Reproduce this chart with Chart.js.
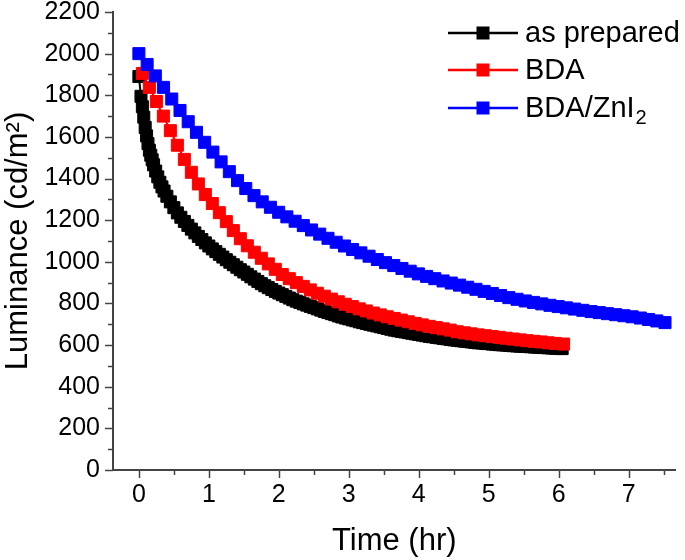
<!DOCTYPE html>
<html><head><meta charset="utf-8">
<script src="https://cdn.jsdelivr.net/npm/chart.js@4/dist/chart.umd.min.js"></script>
<style>html,body{margin:0;padding:0;background:#fff;}#wrap{width:685px;height:560px;}</style>
</head><body><div id="wrap"><canvas id="c" width="685" height="560"></canvas></div>
<script>
const seriesNames = ['as prepared', 'BDA', 'BDA/ZnI\u2082'];
const seriesColors = ['#000000', '#ff0000', '#0000ff'];

const blackT = [0,0.03,0.05,0.07,0.09,0.11,0.13,0.15,0.17,0.19,0.21,0.24,0.27,0.3,0.33,0.36,0.4,0.45,0.5,0.55,0.6,0.65,0.7,0.75,0.8,0.85,0.9,0.95,1,1.05,1.1,1.15,1.2,1.25,1.3,1.35,1.4,1.45,1.5,1.55,1.6,1.65,1.7,1.75,1.8,1.85,1.9,1.95,2,2.05,2.1,2.15,2.2,2.25,2.3,2.35,2.4,2.45,2.5,2.55,2.6,2.65,2.7,2.75,2.8,2.85,2.9,2.95,3,3.05,3.1,3.15,3.2,3.25,3.3,3.35,3.4,3.45,3.5,3.55,3.6,3.65,3.7,3.75,3.8,3.85,3.9,3.95,4,4.05,4.1,4.15,4.2,4.25,4.3,4.35,4.4,4.45,4.5,4.55,4.6,4.65,4.7,4.75,4.8,4.85,4.9,4.95,5,5.05,5.1,5.15,5.2,5.25,5.3,5.35,5.4,5.45,5.5,5.55,5.6,5.65,5.7,5.75,5.8,5.85,5.9,5.95,6,6.05];
const blackV = [1890,1795,1745,1695,1645,1605,1568,1536,1512,1490,1466,1436,1408,1382,1360,1340,1315,1288,1260,1235,1214,1194,1175,1157,1139,1122,1107,1091,1076,1062,1049,1036,1023,1010,998,986,974,962,951,940,928,917,906,895,885,876,867,858,850,842,834,826,818,811,805,798,792,786,780,774,768,762,757,751,746,740,735,730,726,721,717,712,708,704,700,696,692,688,684,680,676,672,669,666,663,660,657,654,651,648,645,642,640,637,635,632,630,627,625,623,621,619,617,615,613,611,610,608,607,605,604,602,601,600,598,597,596,595,594,593,592,591,590,589,588,587,586,585,584,583];

const redT = [0.05,0.15,0.25,0.35,0.45,0.55,0.65,0.75,0.85,0.95,1.05,1.15,1.25,1.35,1.45,1.55,1.65,1.75,1.85,1.95,2.05,2.15,2.25,2.35,2.45,2.55,2.65,2.75,2.85,2.95,3.05,3.15,3.25,3.35,3.45,3.55,3.65,3.75,3.85,3.95,4.05,4.15,4.25,4.35,4.45,4.55,4.65,4.75,4.85,4.95,5.05,5.15,5.25,5.35,5.45,5.55,5.65,5.75,5.85,5.95,6.07];
const redV = [1905,1838,1770,1700,1630,1560,1492,1430,1374,1323,1280,1236,1193,1150,1111,1077,1046,1017,990,964,939,919,900,882,865,849,835,821,808,796,785,774,764,754,745,736,728,720,712,704,697,690,684,678,672,664,659,654,649,645,641,637,633,629,625,621,618,615,611,608,605];

const blueT = [0,0.118,0.235,0.353,0.47,0.588,0.705,0.823,0.94,1.058,1.175,1.293,1.41,1.528,1.645,1.763,1.88,1.998,2.115,2.233,2.35,2.468,2.585,2.703,2.82,2.938,3.055,3.173,3.29,3.408,3.525,3.643,3.76,3.878,3.995,4.113,4.23,4.348,4.465,4.583,4.7,4.818,4.935,5.053,5.17,5.288,5.405,5.523,5.64,5.758,5.875,5.993,6.11,6.228,6.345,6.463,6.58,6.698,6.815,6.933,7.05,7.168,7.285,7.403,7.52];
const blueV = [2000,1948,1893,1838,1782,1727,1673,1622,1574,1527,1480,1433,1390,1352,1318,1288,1262,1238,1216,1195,1174,1153,1133,1113,1094,1076,1059,1043,1027,1011,996,982,968,955,942,930,919,908,898,888,878,868,858,848,838,828,820,812,805,798,791,785,779,773,767,761,756,751,746,741,736,730,723,716,708];

const xTickMarks = [0,0.5,1,1.5,2,2.5,3,3.5,4,4.5,5,5.5,6,6.5,7,7.5];
const yTickMarks = [0,100,200,300,400,500,600,700,800,900,1000,1100,1200,1300,1400,1500,1600,1700,1800,1900,2000,2100,2200];

const FONT = "'Liberation Sans', Arial, sans-serif";
const AXIS_COLOR = '#444';

function pts(t, v) { const n = Math.min(t.length, v.length); const out = []; for (let i = 0; i < n; i++) out.push({x: t[i], y: v[i]}); return out; }

const tickPlugin = {
  id: 'tickMarks',
  afterDraw(chart) {
    const {ctx, scales: {x, y}, chartArea} = chart;
    ctx.save();
    ctx.strokeStyle = AXIS_COLOR; ctx.lineWidth = 1.5;
    for (const v of xTickMarks) {
      const px = Math.round(x.getPixelForValue(v)) + 0.5;
      const len = Number.isInteger(v) ? 8 : 5;
      ctx.beginPath(); ctx.moveTo(px, chartArea.bottom); ctx.lineTo(px, chartArea.bottom + len); ctx.stroke();
    }
    for (const v of yTickMarks) {
      const py = Math.round(y.getPixelForValue(v)) + 0.5;
      const len = (v % 200 === 0) ? 8 : 5;
      ctx.beginPath(); ctx.moveTo(chartArea.left, py); ctx.lineTo(chartArea.left - len, py); ctx.stroke();
    }
    ctx.restore();
  }
};

const legendPlugin = {
  id: 'customLegend',
  afterDraw(chart) {
    const {ctx} = chart;
    const rows = [33, 70, 108];
    ctx.save();
    chart.data.datasets.forEach((ds, i) => {
      const yy = rows[i];
      ctx.strokeStyle = ds.borderColor; ctx.lineWidth = 2.5;
      ctx.beginPath(); ctx.moveTo(448, yy); ctx.lineTo(518, yy); ctx.stroke();
      ctx.fillStyle = ds.borderColor;
      ctx.fillRect(476.5, yy - 6.5, 13, 13);
      ctx.fillStyle = '#000';
      ctx.textBaseline = 'middle'; ctx.textAlign = 'left';
      ctx.font = '29px ' + FONT;
      let label = ds.label;
      if (label.endsWith('\u2082')) {
        const base = label.slice(0, -1);
        ctx.fillText(base, 525, yy + 1);
        const w = ctx.measureText(base).width;
        ctx.font = '20px ' + FONT;
        ctx.fillText('2', 525 + w + 1, yy + 10);
      } else {
        ctx.fillText(label, 525, yy + 1);
      }
    });
    ctx.restore();
  }
};

function mkDs(i, t, v, order) {
  return {
    label: seriesNames[i], data: pts(t, v), showLine: true,
    borderColor: seriesColors[i], backgroundColor: seriesColors[i],
    pointBackgroundColor: seriesColors[i], pointBorderColor: seriesColors[i],
    borderWidth: 2, pointStyle: 'rect', pointRadius: 8.5, pointBorderWidth: 1,
    pointHoverRadius: 8.5, order: order, clip: false
  };
}

new Chart(document.getElementById('c'), {
  type: 'scatter',
  data: { datasets: [ mkDs(0, blackT, blackV, 3), mkDs(1, redT, redV, 2), mkDs(2, blueT, blueV, 1) ] },
  options: {
    responsive: false, animation: false, devicePixelRatio: 1,
    layout: { padding: { top: 12, right: -3, left: 0, bottom: 0 } },
    plugins: { legend: { display: false }, tooltip: { enabled: false } },
    scales: {
      x: {
        type: 'linear', min: -0.37, max: 7.67,
        grid: { display: false, drawTicks: false },
        border: { display: true, color: AXIS_COLOR, width: 2 },
        ticks: { stepSize: 1, includeBounds: false, autoSkip: false, color: '#000', padding: 10,
          font: { family: FONT, size: 25 }, callback: v => Number.isInteger(v) ? String(v) : '' },
        title: { display: true, text: 'Time (hr)', color: '#000', font: { family: FONT, size: 31 }, padding: { top: 0, bottom: 0 } },
        afterFit(s) { s.height = 90; s.paddingLeft = 0; s.paddingRight = 0; }
      },
      y: {
        type: 'linear', min: 0, max: 2200,
        grid: { display: false, drawTicks: false },
        border: { display: true, color: AXIS_COLOR, width: 2 },
        ticks: { stepSize: 200, autoSkip: false, color: '#000', padding: 13, font: { family: FONT, size: 25 },
          callback: v => String(v) },
        title: { display: true, text: 'Luminance (cd/m\u00b2)', color: '#000', font: { family: FONT, size: 31 }, padding: { top: 0, bottom: 0 } },
        afterFit(s) { s.width = 113; s.paddingTop = 0; s.paddingBottom = 0; }
      }
    }
  },
  plugins: [tickPlugin, legendPlugin]
});
</script>
</body></html>
